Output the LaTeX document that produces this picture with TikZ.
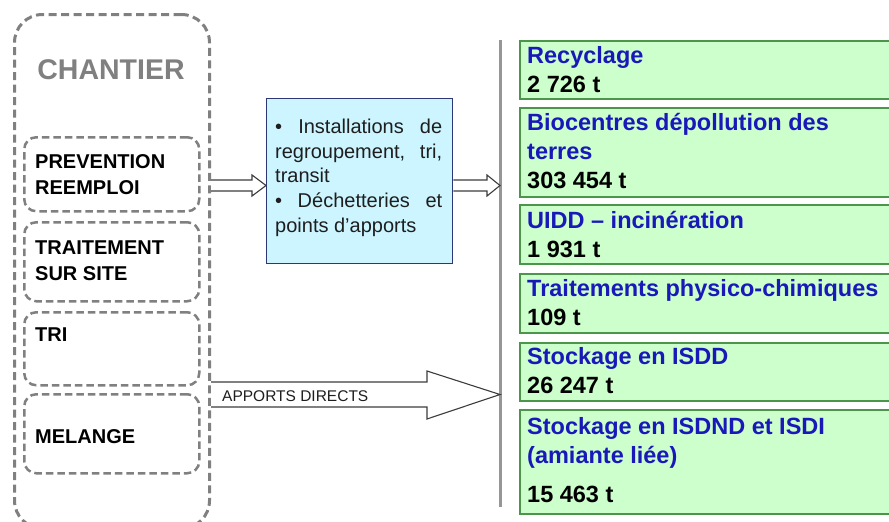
\documentclass[tikz,border=0pt]{standalone}
\usepackage{fontspec}
\setmainfont{Liberation Sans}
\definecolor{dgray}{RGB}{128,128,128}
\definecolor{lgray}{RGB}{150,150,150}
\definecolor{cyanfill}{RGB}{204,245,255}
\definecolor{navy}{RGB}{45,55,120}
\definecolor{gfill}{RGB}{204,255,204}
\definecolor{gline}{RGB}{75,150,75}
\definecolor{tblue}{RGB}{25,25,185}
\definecolor{aline}{RGB}{60,60,60}
\definecolor{btext}{RGB}{30,30,30}
\begin{document}
\begin{tikzpicture}[x=1pt,y=-1pt,
 outerbox/.style={draw=dgray,line width=3pt,dash pattern=on 8pt off 4.5pt,rounded corners=28pt,inner sep=0pt,anchor=north west},
 innerbox/.style={draw=dgray,line width=2.5pt,dash pattern=on 7.5pt off 4pt,rounded corners=12pt,inner sep=0pt,anchor=north west,minimum width=175pt},
 labtxt/.style={font=\fontsize{20}{24}\selectfont\bfseries,text=black,anchor=base west,inner sep=0pt},
 bluebox/.style={draw=navy,fill=cyanfill,line width=1.3pt,inner sep=0pt,anchor=north west},
 btxt/.style={font=\fontsize{20}{24}\selectfont,text=btext,anchor=base west,inner sep=0pt},
 gbox/.style={draw=gline,fill=gfill,line width=1.8pt,inner sep=0pt,anchor=north west,minimum width=380pt},
 gtitle/.style={font=\fontsize{23.5}{28}\selectfont\bfseries,text=tblue,anchor=base west,inner sep=0pt},
 gnum/.style={font=\fontsize{23.5}{28}\selectfont\bfseries,text=black,anchor=base west,inner sep=0pt},
 blockarrow/.style={draw=aline,fill=white,line width=1.1pt,line join=miter},
 apptxt/.style={font=\fontsize{15.5}{18}\selectfont,text=btext,anchor=base west,inner sep=0pt},
]
\useasboundingbox (0,0) rectangle (889,522);

% CHANTIER column
\node[outerbox,minimum width=195pt,minimum height=514pt] (chantier) at (13,13) {};
\node[font=\fontsize{28.5}{32}\selectfont\bfseries,text=dgray,anchor=base,inner sep=0pt] (chtitle) at (111,79) {CHANTIER};

\node[innerbox,minimum height=74pt] (prev) at (23,136) {};
\node[innerbox,minimum height=79pt] (trait) at (23,221) {};
\node[innerbox,minimum height=73pt] (tri) at (23,311) {};
\node[innerbox,minimum height=79pt] (mel) at (23,393) {};

\node[labtxt] (prev1) at (35,168) {PREVENTION};
\node[labtxt] (prev2) at (35,194) {REEMPLOI};
\node[labtxt] (trait1) at (35,254) {TRAITEMENT};
\node[labtxt] (trait2) at (35,280) {SUR SITE};
\node[labtxt] (tri1) at (35,341) {TRI};
\node[labtxt] (mel1) at (35,443) {MELANGE};

% Intermediate box
\node[bluebox,minimum width=186pt,minimum height=165pt] (inst) at (266,98) {};
\node[btxt] (inst1) at (275,133) {\makebox[167pt][s]{• Installations de}};
\node[btxt] (inst2) at (275,158) {\makebox[167pt][s]{regroupement, tri,}};
\node[btxt] (inst3) at (275,182) {transit};
\node[btxt] (inst4) at (275,207) {\makebox[167pt][s]{• Déchetteries et}};
\node[btxt] (inst5) at (275,232) {points d’apports};

% separator line
\coordinate (septop) at (500,40);
\coordinate (sepbot) at (500,507);
\draw[lgray,line width=3pt] (septop) -- (sepbot);

% arrows
\filldraw[blockarrow] (chantier.east |- 0,180) -- (252,180) -- (252,175) -- (inst.west |- 0,185.5) -- (252,196) -- (252,191) -- (chantier.east |- 0,191);
\filldraw[blockarrow] (inst.east |- 0,180) -- (487,180) -- (487,175) -- (septop |- 0,185.5) -- (487,196) -- (487,191) -- (inst.east |- 0,191);
\filldraw[blockarrow] (chantier.east |- 0,382) -- (427,382) -- (427,371) -- (septop |- 0,394.5) -- (427,419) -- (427,407) -- (chantier.east |- 0,407);
\node[apptxt] (app) at (222,401) {APPORTS DIRECTS};

% destination boxes
\node[gbox,minimum height=58pt] (g1) at (519,40) {};
\node[gtitle] (g1a) at (527,63) {Recyclage};
\node[gnum] (g1b) at (527,92) {2 726 t};

\node[gbox,minimum height=89pt] (g2) at (519,107) {};
\node[gtitle] (g2a) at (527,130) {Biocentres dépollution des};
\node[gtitle] (g2b) at (527,159) {terres};
\node[gnum] (g2c) at (527,188) {303 454 t};

\node[gbox,minimum height=59pt] (g3) at (519,204) {};
\node[gtitle] (g3a) at (527,228) {UIDD – incinération};
\node[gnum] (g3b) at (527,257) {1 931 t};

\node[gbox,minimum height=59pt] (g4) at (519,273) {};
\node[gtitle] (g4a) at (527,296) {Traitements physico-chimiques};
\node[gnum] (g4b) at (527,325) {109 t};

\node[gbox,minimum height=58pt] (g5) at (519,342) {};
\node[gtitle] (g5a) at (527,364) {Stockage en ISDD};
\node[gnum] (g5b) at (527,393) {26 247 t};

\node[gbox,minimum height=104pt] (g6) at (519,409) {};
\node[gtitle] (g6a) at (527,434) {Stockage en ISDND et ISDI};
\node[gtitle] (g6b) at (527,463) {(amiante liée)};
\node[gnum] (g6c) at (527,502) {15 463 t};
\end{tikzpicture}
\end{document}
